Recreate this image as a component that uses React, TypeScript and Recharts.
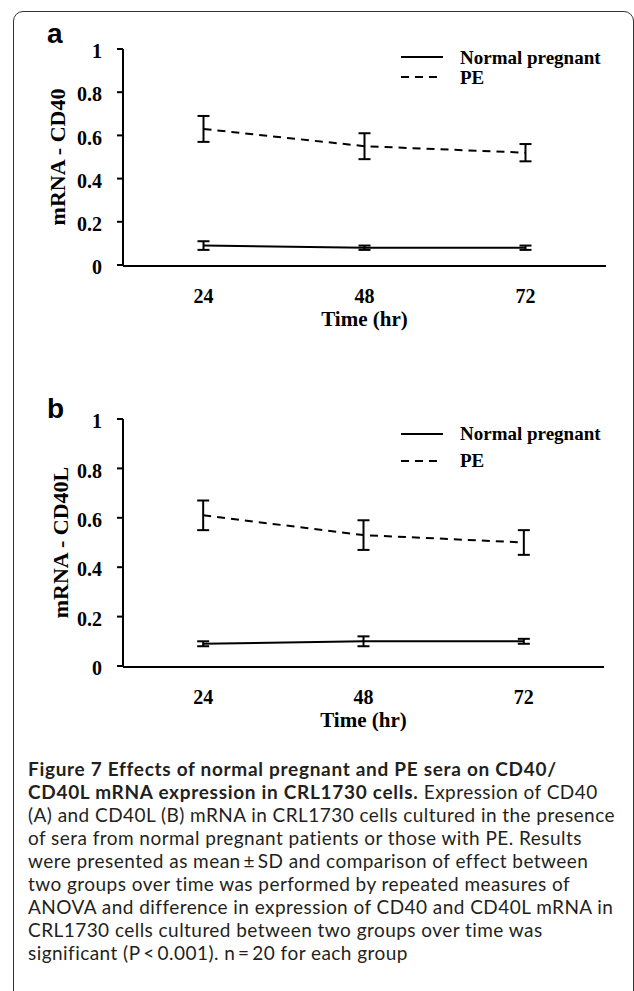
import React from "react"
import { LineChart, Line, XAxis, YAxis, ErrorBar, Legend } from "recharts"

// time points (hr)
const times = ["24", "48", "72"]
const yTicks = [0, 0.2, 0.4, 0.6, 0.8, 1]
const edgeTicks = [0, 1, 2, 3]

// panel a - CD40 mRNA
const cd40Normal = [0.09, 0.08, 0.08]
const cd40NormalSd = [0.02, 0.01, 0.01]
const cd40Pe = [0.63, 0.55, 0.52]
const cd40PeSd = [0.06, 0.06, 0.04]

// panel b - CD40L mRNA
const cd40lNormal = [0.09, 0.1, 0.1]
const cd40lNormalSd = [0.01, 0.02, 0.01]
const cd40lPe = [0.61, 0.53, 0.5]
const cd40lPeSd = [0.06, 0.06, 0.05]

const captionLines: { bold?: string; text?: string }[] = [
  { bold: "Figure 7 Effects of normal pregnant and PE sera on CD40/" },
  { bold: "CD40L mRNA expression in CRL1730 cells.", text: " Expression of CD40" },
  { text: "(A) and CD40L (B) mRNA in CRL1730 cells cultured in the presence" },
  { text: "of sera from normal pregnant patients or those with PE. Results" },
  { text: "were presented as mean\u2009\u00b1\u2009SD and comparison of effect between" },
  { text: "two groups over time was performed by repeated measures of" },
  { text: "ANOVA and difference in expression of CD40 and CD40L mRNA in" },
  { text: "CRL1730 cells cultured between two groups over time was" },
  { text: "significant (P\u2009<\u20090.001). n\u2009=\u200920 for each group" },
]

const SERIF = "'Liberation Serif', 'Times New Roman', serif"
const tickStyle = { fontSize: 20, fill: "#000", fontWeight: "bold", fontFamily: SERIF }

const makeRows = (normal: number[], normalSd: number[], pe: number[], peSd: number[]) =>
  times.map((t, i) => ({ time: t, normal: normal[i], normalSd: normalSd[i], pe: pe[i], peSd: peSd[i] }))

const legendContent = (rowH: number) => (props: any) => (
  <div style={{ fontFamily: SERIF, fontWeight: "bold", fontSize: 19, color: "#000" }}>
    {(props.payload || []).map((entry: any) => (
      <div key={entry.value} style={{ display: "flex", alignItems: "center", height: rowH }}>
        <svg width={42} height={4} style={{ display: "block" }}>
          <line
            x1={0}
            y1={2}
            x2={42}
            y2={2}
            stroke="#000"
            strokeWidth={2}
            strokeDasharray={entry.payload?.strokeDasharray}
          />
        </svg>
        <span style={{ marginLeft: 17, whiteSpace: "nowrap", lineHeight: 1 }}>{entry.value}</span>
      </div>
    ))}
  </div>
)

interface PanelProps {
  rows: any[]
  top: number
  height: number
  right: number
  yLabel: string
  yLabelDx: number
  legendLeft: number
  legendTop: number
  legendRow: number
}

function Panel({ rows, top, height, right, yLabel, yLabelDx, legendLeft, legendTop, legendRow }: PanelProps) {
  return (
    <div style={{ position: "absolute", left: 0, top }}>
      <LineChart width={634} height={height} data={rows} margin={{ top: 49, right, bottom: 73, left: 0 }}>
        <XAxis
          xAxisId="edge"
          type="number"
          domain={[0, 3]}
          ticks={edgeTicks}
          tick={false}
          height={1}
          tickSize={7}
          axisLine={{ stroke: "#000", strokeWidth: 2 }}
          tickLine={{ stroke: "#000", strokeWidth: 2 }}
        />
        <XAxis
          xAxisId="cat"
          dataKey="time"
          scale="band"
          height={1}
          axisLine={false}
          tickLine={false}
          tickSize={0}
          tickMargin={24}
          fontSize={20}
          tick={tickStyle}
          label={{
            value: "Time (hr)",
            position: "bottom",
            offset: 45,
            fontSize: 21,
            style: { fontSize: 21, fontWeight: "bold", fill: "#000", fontFamily: SERIF },
          }}
        />
        <YAxis
          width={123}
          domain={[0, 1]}
          ticks={yTicks}
          tickSize={6}
          tickMargin={15}
          fontSize={20}
          tick={{ ...tickStyle, dy: 2 }}
          axisLine={{ stroke: "#000", strokeWidth: 2 }}
          tickLine={{ stroke: "#000", strokeWidth: 2 }}
          label={{
            value: yLabel,
            angle: -90,
            position: "center",
            dx: yLabelDx,
            fontSize: 22,
            style: { fontSize: 22, fontWeight: "bold", fill: "#000", fontFamily: SERIF },
          }}
        />
        <Legend
          layout="vertical"
          align="center"
          verticalAlign="middle"
          content={legendContent(legendRow)}
          wrapperStyle={{ left: legendLeft, top: legendTop, width: 220, height: legendRow * 2 }}
        />
        <Line
          xAxisId="cat"
          name="Normal pregnant"
          dataKey="normal"
          stroke="#000"
          strokeWidth={2}
          dot={false}
          isAnimationActive={false}
        >
          <ErrorBar dataKey="normalSd" width={6} strokeWidth={2} stroke="#000" direction="y" />
        </Line>
        <Line
          xAxisId="cat"
          name="PE"
          dataKey="pe"
          stroke="#000"
          strokeWidth={2}
          strokeDasharray="8 6"
          dot={false}
          isAnimationActive={false}
        >
          <ErrorBar dataKey="peSd" width={6} strokeWidth={2} stroke="#000" direction="y" />
        </Line>
      </LineChart>
    </div>
  )
}

export default function App() {
  const rowsA = makeRows(cd40Normal, cd40NormalSd, cd40Pe, cd40PeSd)
  const rowsB = makeRows(cd40lNormal, cd40lNormalSd, cd40lPe, cd40lPeSd)

  return (
    <div style={{ position: "absolute", left: 0, top: 0, width: 634, height: 991, overflow: "hidden", background: "#fff" }}>
      {/* figure frame */}
      <div
        style={{
          position: "absolute",
          left: 13,
          top: 11,
          width: 621,
          height: 1010,
          boxSizing: "border-box",
          border: "1.5px solid #333",
          borderRadius: 10,
        }}
      />

      <div style={{ position: "absolute", left: 47, top: 20, fontFamily: "'Liberation Sans', Arial, sans-serif", fontWeight: "bold", fontSize: 28, lineHeight: 1 }}>
        a
      </div>
      <div style={{ position: "absolute", left: 47, top: 395, fontFamily: "'Liberation Sans', Arial, sans-serif", fontWeight: "bold", fontSize: 28, lineHeight: 1 }}>
        b
      </div>

      <Panel rows={rowsA} top={0} height={340} right={28} yLabel="mRNA - CD40" yLabelDx={-4}
        legendLeft={401} legendTop={47} legendRow={20} />
      <Panel rows={rowsB} top={370} height={371} right={30} yLabel="mRNA - CD40L" yLabelDx={-1}
        legendLeft={401} legendTop={50} legendRow={27} />

      {/* caption */}
      <div style={{ position: "absolute", left: 28, top: 757, fontFamily: "Lato, 'Open Sans', sans-serif", fontSize: 19, color: "#231f20" }}>
        {captionLines.map((ln, i) => (
          <div key={i} style={{ height: 23, lineHeight: "23px", whiteSpace: "nowrap" }}>
            {ln.bold && <span style={{ fontWeight: 700, letterSpacing: 0.7 }}>{ln.bold}</span>}
            {ln.text && <span style={{ fontWeight: 400, letterSpacing: 0.45 }}>{ln.text}</span>}
          </div>
        ))}
      </div>
    </div>
  )
}
